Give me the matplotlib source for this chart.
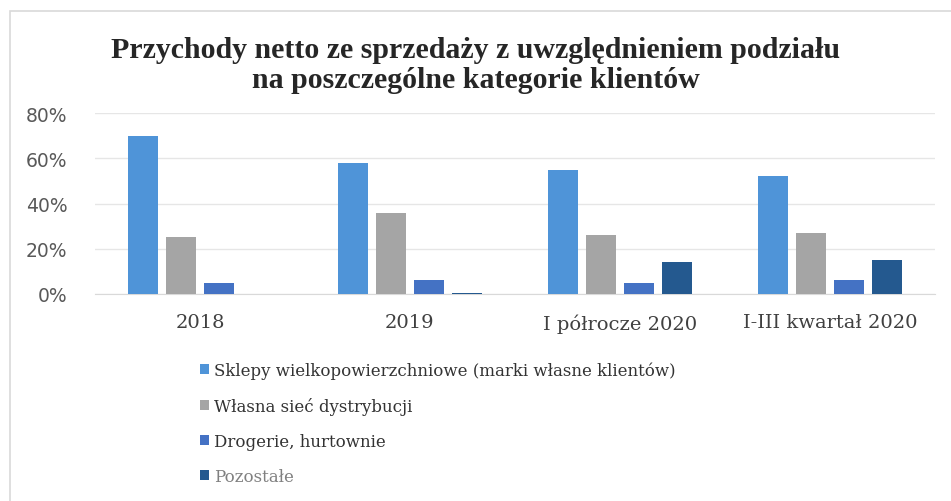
import numpy as np
import matplotlib.pyplot as plt
from matplotlib.patches import Rectangle
from matplotlib.ticker import FuncFormatter

# data (share of net sales, %)
periods = ['2018', '2019', 'I półrocze 2020', 'I-III kwartał 2020']
series_names = ['Sklepy wielkopowierzchniowe (marki własne klientów)',
                'Własna sieć dystrybucji',
                'Drogerie, hurtownie',
                'Pozostałe']
sklepy = [70, 58, 55, 52]
wlasna = [25, 36, 26, 27]
drogerie = [5, 6, 5, 6]
pozostale = [0, 0.5, 14, 15]
colors = ['#4f94d8', '#a5a5a5', '#4472c4', '#24598f']

fig = plt.figure(figsize=(9.51, 5.02), dpi=100)
fig.patches.append(Rectangle((10 / 951, -0.1), 1.2, 1 - 12 / 502 + 0.1,
                             transform=fig.transFigure, fill=False,
                             edgecolor='#d9d9d9', linewidth=1.2))

ax = fig.add_axes([95 / 951, 1 - 295 / 502, 840 / 951, 181 / 502])
x = np.arange(len(periods))
width = 0.143
step = 0.181
all_series = [sklepy, wlasna, drogerie, pozostale]
handles = []
for i, (vals, col) in enumerate(zip(all_series, colors)):
    b = ax.bar(x + (i - 1.5) * step, vals, width, color=col, zorder=3)
    handles.append(b)

ax.set_xlim(-0.5, len(periods) - 0.5)
ax.set_ylim(0, 80)
ax.set_yticks([0, 20, 40, 60, 80])
ax.yaxis.set_major_formatter(FuncFormatter(lambda v, p: f'{int(v)}%'))
ax.grid(axis='y', color='#e6e6e6', linewidth=1, zorder=0)
for s in ['top', 'right', 'left']:
    ax.spines[s].set_visible(False)
ax.spines['bottom'].set_color('#d9d9d9')
ax.tick_params(axis='both', length=0)
ax.tick_params(axis='y', labelsize=13.5, labelcolor='#595959', pad=20)
ax.set_xticks(x)
ax.set_xticklabels(periods, fontfamily='DejaVu Serif', fontsize=14,
                   color='#404040')
ax.tick_params(axis='x', pad=14)

fig.text(0.5, 1 - 51 / 502, 'Przychody netto ze sprzedaży z uwzględnieniem podziału',
         ha='center', va='center', fontfamily='Liberation Serif',
         fontweight='bold', fontsize=21.5, color='#262626')
fig.text(0.5, 1 - 80 / 502, 'na poszczególne kategorie klientów',
         ha='center', va='center', fontfamily='Liberation Serif',
         fontweight='bold', fontsize=21.5, color='#262626')

leg = fig.legend(handles, series_names, loc='upper left',
                 bbox_to_anchor=(193 / 951, 1 - 356 / 502), frameon=False,
                 prop={'family': 'DejaVu Serif', 'size': 12},
                 handlelength=0.55, handleheight=0.55, handletextpad=0.3,
                 labelspacing=1.08, borderaxespad=0)
for t in leg.get_texts():
    t.set_color('#333333')
leg.get_texts()[3].set_color('#808080')

fig.savefig('out.png', dpi=100)
